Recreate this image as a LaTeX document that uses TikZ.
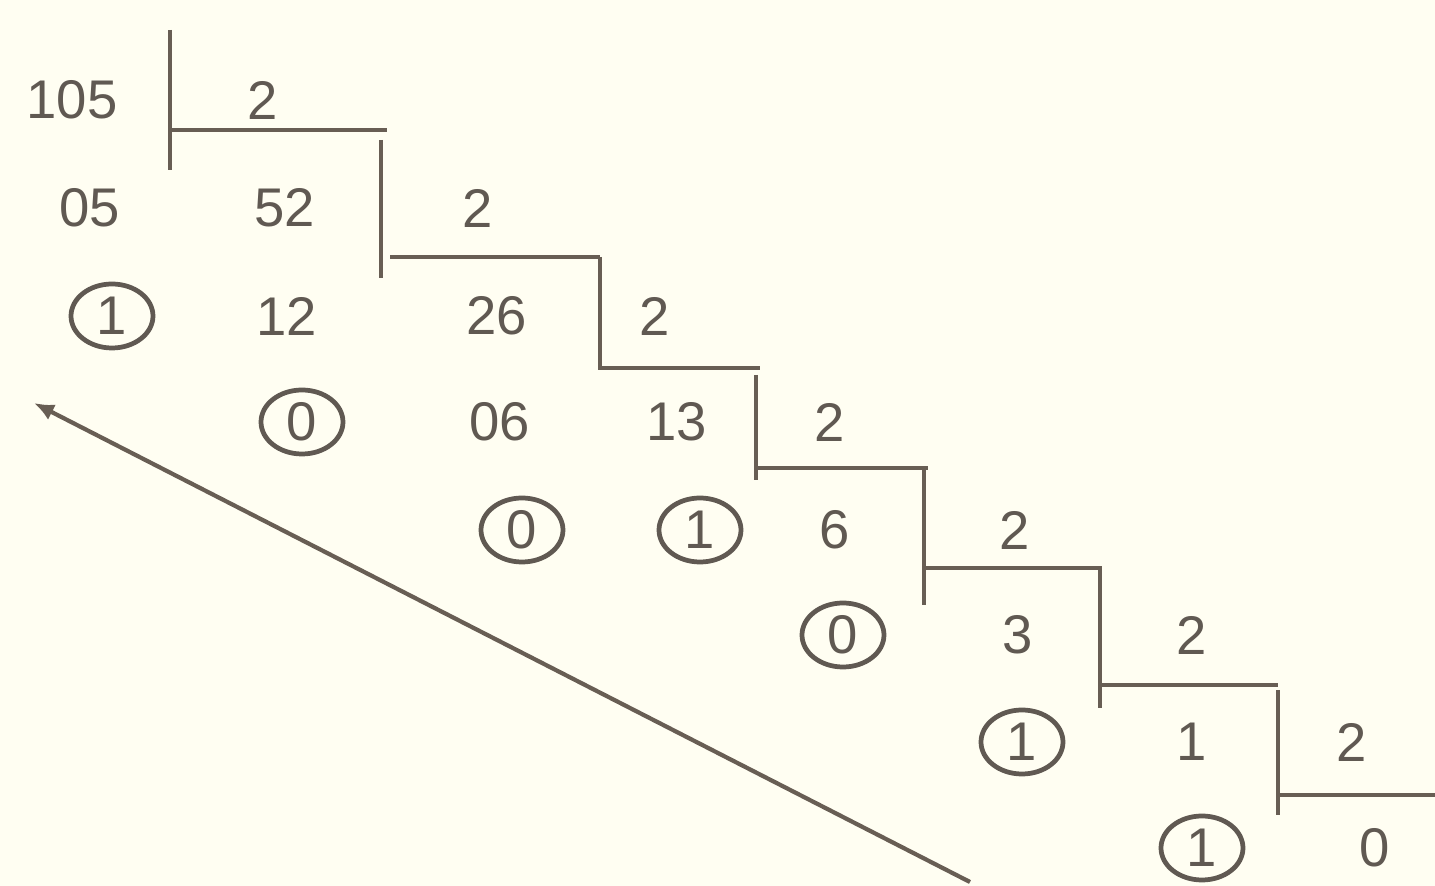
\documentclass[tikz,border=0pt]{standalone}
\usepackage{fontspec}
\setmainfont{Liberation Sans}
\usepackage{tikz}
\usetikzlibrary{arrows.meta,shapes.geometric}
\definecolor{paper}{RGB}{255,254,242}
\definecolor{ink}{RGB}{96,89,82}
\definecolor{bar}{RGB}{104,94,84}

\tikzset{
	num/.style={text=ink,font=\fontsize{15.5}{18}\selectfont,inner sep=0pt},
	rem/.style={num,ellipse,draw=ink,line width=1.35pt,minimum width=8.2mm,minimum height=6.4mm},
	divbar/.style={bar,line width=1.4pt}
}

\begin{document}
\begin{tikzpicture}[x=0.1mm,y=-0.1mm,>={Latex[length=2mm,width=1.7mm]}]
	\fill[paper] (0,0) rectangle (1435,886);
	\useasboundingbox (0,0) rectangle (1435,886);
	% row 1
	\node[num] (n105) at (72,100) {105};
	\node[num] (d1) at (263,100) {2};
	% row 2
	\node[num] (n05) at (90,208) {05};
	\node[num] (q52) at (285,208) {52};
	\node[num] (d2) at (478,208) {2};
	% row 3
	\node[rem] (r1) at (112,316) {1};
	\node[num] (n12) at (287,316) {12};
	\node[num] (q26) at (497,316) {26};
	\node[num] (d3) at (655,316) {2};
	% row 4
	\node[rem] (r2) at (302,422) {0};
	\node[num] (n06) at (500,422) {06};
	\node[num] (q13) at (677,422) {13};
	\node[num] (d4) at (830,422) {2};
	% row 5
	\node[rem] (r3) at (522,530) {0};
	\node[rem] (r4) at (700,530) {1};
	\node[num] (q6) at (835,530) {6};
	\node[num] (d5) at (1015,530) {2};
	% row 6
	\node[rem] (r5) at (843,635) {0};
	\node[num] (q3) at (1018,635) {3};
	\node[num] (d6) at (1192,635) {2};
	% row 7
	\node[rem] (r6) at (1022,742) {1};
	\node[num] (q1) at (1192,742) {1};
	\node[num] (d7) at (1352,742) {2};
	% row 8
	\node[rem] (r7) at (1202,848) {1};
	\node[num] (q0) at (1375,848) {0};
	% division bars
	\draw[divbar] (170,30) -- (170,170);
	\draw[divbar] (170,130) -- (387,130);
	\draw[divbar] (381,140) -- (381,278);
	\draw[divbar] (390,257) -- (600,257);
	\draw[divbar] (600,257) -- (600,368) -- (760,368);
	\draw[divbar] (756,375) -- (756,480);
	\draw[divbar] (756,468) -- (928,468);
	\draw[divbar] (924,470) -- (924,605);
	\draw[divbar] (924,568) -- (1102,568);
	\draw[divbar] (1100,570) -- (1100,708);
	\draw[divbar] (1100,685) -- (1278,685);
	\draw[divbar] (1278,690) -- (1278,815);
	\draw[divbar] (1278,795) -- (1435,795);
	% reading direction
	\coordinate (from) at (970,882);
	\coordinate (to) at (34,403);
	\draw[->,bar,line width=1.2pt] (from) -- (to);
\end{tikzpicture}
\end{document}
